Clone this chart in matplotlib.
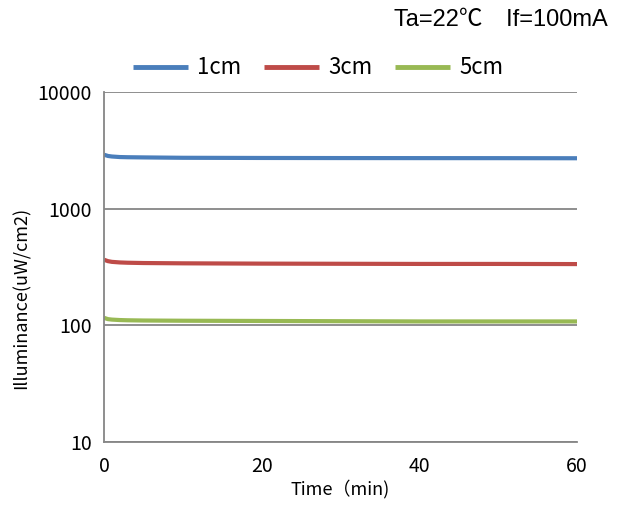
import matplotlib
matplotlib.use("Agg")
import matplotlib.pyplot as plt

plt.rcParams['font.family'] = ['Noto Sans CJK SC', 'DejaVu Sans']

time_min = [0, 0.5, 1, 2, 3, 5, 10, 20, 30, 40, 50, 60]
series_1cm = [2900, 2830, 2800, 2770, 2760, 2750, 2730, 2720, 2715, 2712, 2710, 2705]
series_3cm = [365, 355, 350, 346, 344, 342, 340, 338, 337, 336, 336, 335]
series_5cm = [116, 113, 112, 111, 110.5, 110, 109.5, 109, 108.5, 108, 108, 108]
labels = ['1cm', '3cm', '5cm']
colors = ['#4a7ebb', '#be4b48', '#98b954']
yticks = [10, 100, 1000, 10000]
xticks = [0, 20, 40, 60]

fig = plt.figure(figsize=(6.24, 5.07), dpi=100)
ax = fig.add_axes([104/624, 1-442/507, (577-104)/624, (442-92)/507])

for ys, lab, c in zip([series_1cm, series_3cm, series_5cm], labels, colors):
    ax.plot(time_min, ys, color=c, lw=3, label=lab, solid_capstyle='butt')

ax.set_yscale('log')
ax.set_ylim(10, 10000)
ax.set_xlim(0, 60)
ax.set_yticks(yticks)
ax.set_yticklabels([str(v) for v in yticks])
ax.yaxis.set_minor_locator(matplotlib.ticker.NullLocator())
ax.set_xticks(xticks)
ax.set_xticklabels([str(v) for v in xticks])
ax.tick_params(axis='both', length=0, labelsize=14, colors='black')
ax.tick_params(axis='y', pad=9)
ax.tick_params(axis='x', pad=10)
ax.grid(axis='y', which='major', color='#868686', lw=1.3)
ax.set_axisbelow(True)
for s in ['top', 'right']:
    ax.spines[s].set_visible(False)
for s in ['left', 'bottom']:
    ax.spines[s].set_color('#868686')
    ax.spines[s].set_linewidth(1.3)

ax.set_xlabel('Time（min)', fontsize=13, labelpad=2)
fig.text(22/624, 1-298/507, 'Illuminance(uW/cm2)', rotation=90, ha='center', va='center',
         fontsize=13)

fig.text(608/624, 1-20/507, 'Ta=22℃　If=100mA', ha='right', va='center', fontsize=17,
         family=['Liberation Sans', 'Noto Sans CJK SC', 'DejaVu Sans'])

leg = ax.legend(loc='center', bbox_to_anchor=(318/624, 1-68/507), bbox_transform=fig.transFigure,
          ncol=3, frameon=False, fontsize=16, handlelength=2.5, handletextpad=0.4,
          columnspacing=1.0)
for h in leg.get_lines():
    h.set_linewidth(3.5)

fig.savefig('out.png', dpi=100)
